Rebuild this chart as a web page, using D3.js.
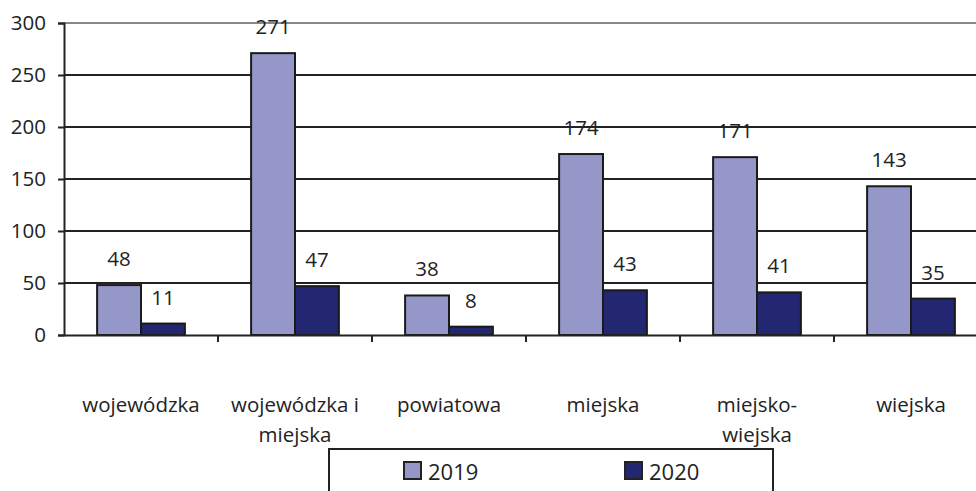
<!DOCTYPE html>
<html>
<head>
<meta charset="utf-8">
<style>
  body { margin: 0; background: #fff; }
  text { font-family: "Open Sans", sans-serif; fill: #222; }
</style>
</head>
<body>
<script src="https://d3js.org/d3.v7.min.js"></script>
<script>
// chart data
var categories = ["wojewódzka", "wojewódzka i|miejska", "powiatowa", "miejska", "miejsko-|wiejska", "wiejska"];
var series2019 = [48, 271, 38, 174, 171, 143];
var series2020 = [11, 47, 8, 43, 41, 35];
var seriesNames = ["2019", "2020"];
var yTicks = [0, 50, 100, 150, 200, 250, 300];

var colors = ["#9597c9", "#232670"];
var W = 976, H = 491;
var plot = {left: 64, top: 23, right: 988, bottom: 335};
var fs = "20.5px";

var svg = d3.select("body").append("svg")
    .attr("width", W).attr("height", H);

var x = d3.scaleBand()
    .domain(categories)
    .range([plot.left, plot.right])
    .paddingInner(0.43).paddingOuter(0.215);
var xCat = d3.scaleBand().domain(categories).range([plot.left, plot.right]);
var xSub = d3.scaleBand().domain(seriesNames).range([0, x.bandwidth()]);
var y = d3.scaleLinear().domain([0, 300]).range([plot.bottom, plot.top]);

// grid lines
svg.append("g").selectAll("line")
    .data(yTicks.slice(1))
    .enter().append("line")
    .attr("x1", plot.left).attr("x2", W)
    .attr("y1", function(d) { return y(d); })
    .attr("y2", function(d) { return y(d); })
    .attr("stroke", function(d) { return d === 300 ? "#888" : "#222"; })
    .attr("stroke-width", 2);

// bars
var data = categories.map(function(c, i) {
  return {cat: c, vals: [series2019[i], series2020[i]]};
});
var groups = svg.append("g").selectAll("g")
    .data(data).enter().append("g")
    .attr("transform", function(d) { return "translate(" + x(d.cat) + ",0)"; });

groups.selectAll("rect")
    .data(function(d) { return d.vals.map(function(v, j) { return {v: v, s: seriesNames[j], j: j}; }); })
    .enter().append("rect")
    .attr("x", function(d) { return xSub(d.s); })
    .attr("width", xSub.bandwidth())
    .attr("y", function(d) { return y(d.v); })
    .attr("height", function(d) { return y(0) - y(d.v); })
    .attr("fill", function(d) { return colors[d.j]; })
    .attr("stroke", "#1a1a1a")
    .attr("stroke-width", 2);

groups.selectAll("text.val")
    .data(function(d) { return d.vals.map(function(v, j) { return {v: v, s: seriesNames[j]}; }); })
    .enter().append("text")
    .attr("class", "val")
    .attr("x", function(d) { return xSub(d.s) + xSub.bandwidth() / 2; })
    .attr("y", function(d) { return y(d.v) - 19; })
    .attr("text-anchor", "middle")
    .style("font-size", fs)
    .text(function(d) { return d.v; });

// y axis
var yAxis = svg.append("g")
    .attr("transform", "translate(" + plot.left + ",0)")
    .call(d3.axisLeft(y).tickValues(yTicks).tickSize(6).tickPadding(12));
yAxis.select(".domain").attr("stroke", "#222").attr("stroke-width", 2);
yAxis.selectAll(".tick line").attr("stroke", "#222").attr("stroke-width", 2);
yAxis.selectAll(".tick text")
    .style("font-family", "'Open Sans', sans-serif")
    .style("font-size", fs).attr("fill", "#222");

// x axis
var xAxis = svg.append("g")
    .attr("transform", "translate(0," + plot.bottom + ")")
    .call(d3.axisBottom(xCat).tickSize(0).tickFormat(""));
xAxis.select(".domain").attr("stroke", "#222").attr("stroke-width", 2);
svg.append("g").selectAll("line")
    .data(categories.slice(1))
    .enter().append("line")
    .attr("x1", function(d) { return xCat(d); })
    .attr("x2", function(d) { return xCat(d); })
    .attr("y1", plot.bottom).attr("y2", plot.bottom + 7)
    .attr("stroke", "#222").attr("stroke-width", 2);

var catLabels = svg.append("g").selectAll("text")
    .data(categories).enter().append("text")
    .attr("x", function(d) { return xCat(d) + xCat.bandwidth() / 2; })
    .attr("y", 412)
    .attr("text-anchor", "middle")
    .style("font-size", fs);
catLabels.each(function(d) {
  var t = d3.select(this);
  d.split("|").forEach(function(line, k) {
    t.append("tspan")
      .attr("x", t.attr("x"))
      .attr("dy", k === 0 ? 0 : 30)
      .text(line);
  });
});

// legend
var legend = svg.append("g");
legend.append("rect")
    .attr("x", 329).attr("y", 449)
    .attr("width", 444).attr("height", 60)
    .attr("fill", "#fff").attr("stroke", "#222").attr("stroke-width", 2);
var legendX = [404, 625];
seriesNames.forEach(function(s, i) {
  legend.append("rect")
    .attr("x", legendX[i]).attr("y", 462)
    .attr("width", 17).attr("height", 17)
    .attr("fill", colors[i]).attr("stroke", "#222").attr("stroke-width", 2);
  legend.append("text")
    .attr("x", legendX[i] + 24).attr("y", 480)
    .style("font-size", "22px")
    .text(s);
});
</script>
</body>
</html>
